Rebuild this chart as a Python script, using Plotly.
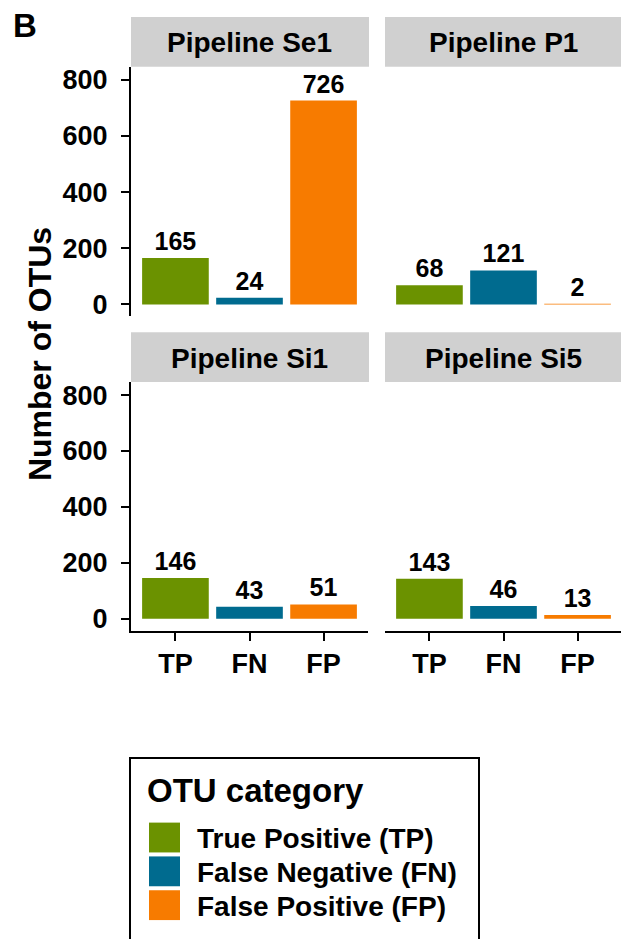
import plotly.graph_objects as go

W, H = 621, 939

categories = ["TP", "FN", "FP"]
pipelines = ["Pipeline Se1", "Pipeline P1", "Pipeline Si1", "Pipeline Si5"]
se1_values = [165, 24, 726]
p1_values = [68, 121, 2]
si1_values = [146, 43, 51]
si5_values = [143, 46, 13]
legend_labels = ["True Positive (TP)", "False Negative (FN)", "False Positive (FP)"]
y_ticks = [0, 200, 400, 600, 800]

colors = ["#6B9200", "#006B8F", "#F77B00"]
FONT = "Liberation Sans"


def px(x):
    return x / W


def py(y):
    return 1 - y / H


series = [se1_values, p1_values, si1_values, si5_values]

fig = go.Figure()
for i, vals in enumerate(series):
    n = "" if i == 0 else str(i + 1)
    fig.add_trace(go.Bar(
        x=categories, y=vals,
        marker=dict(color=colors, line=dict(width=0)),
        width=0.9,
        text=[str(v) for v in vals],
        textposition="outside",
        constraintext="none",
        cliponaxis=False,
        textfont=dict(family=FONT, size=25, color="black", weight="bold"),
        xaxis="x" + n, yaxis="y" + n,
        showlegend=False,
        hoverinfo="skip",
    ))

# panel geometry (pixels)
left_x = (131, 368)
right_x = (385, 621)
top_y = (66, 317)
bot_y = (383, 633)
unit = (left_x[1] - left_x[0]) / 3.2
yrange = [-42.5, 847]

tickfont = dict(family=FONT, size=27, color="black", weight="bold")

layout = dict(
    width=W, height=H,
    margin=dict(l=0, r=0, t=0, b=0),
    paper_bgcolor="white", plot_bgcolor="white",
    showlegend=False,
    font=dict(family=FONT, color="black"),
)

panels = [
    ("", left_x, top_y, True, False),
    ("2", right_x, top_y, False, False),
    ("3", left_x, bot_y, True, True),
    ("4", right_x, bot_y, False, True),
]
for n, xs, ys, show_y, show_x in panels:
    xr = [-0.6, -0.6 + (xs[1] - xs[0]) / unit]
    layout["xaxis" + n] = dict(
        domain=[px(xs[0]), px(xs[1])], anchor="y" + n,
        type="category", categoryorder="array", categoryarray=categories,
        range=xr, showgrid=False, zeroline=False,
        showline=show_x, linecolor="black", linewidth=2,
        ticks="outside" if show_x else "", ticklen=8, tickwidth=2, tickcolor="black",
        showticklabels=show_x, tickfont=tickfont, fixedrange=True,
    )
    layout["yaxis" + n] = dict(
        domain=[py(ys[1]), py(ys[0])], anchor="x" + n,
        range=yrange, showgrid=False, zeroline=False,
        tickvals=y_ticks,
        showline=show_y, linecolor="black", linewidth=2,
        ticks="outside" if show_y else "", ticklen=8, tickwidth=2, tickcolor="black",
        showticklabels=show_y, tickfont=tickfont, ticklabelstandoff=8, fixedrange=True,
    )

fig.update_layout(**layout)

shapes = []
annotations = []
# facet strips
strip_rows = [(16, 66), (333, 383)]
for idx, name in enumerate(pipelines):
    xs = left_x if idx % 2 == 0 else right_x
    ys = strip_rows[idx // 2]
    shapes.append(dict(type="rect", xref="paper", yref="paper",
                       x0=px(xs[0]), x1=px(xs[1] + 1), y0=py(ys[1]), y1=py(ys[0]),
                       fillcolor="#D0D0D0", line=dict(width=0), layer="below"))
    cx = (xs[0] + (xs[0] + 237)) / 2
    annotations.append(dict(text=name, xref="paper", yref="paper",
                            x=px(cx), y=py((ys[0] + ys[1]) / 2 + 1),
                            xanchor="center", yanchor="middle", showarrow=False,
                            font=dict(family=FONT, size=28, color="black", weight="bold")))

# panel tag
annotations.append(dict(text="B", xref="paper", yref="paper", x=px(11), y=py(25),
                        xanchor="left", yanchor="middle", showarrow=False,
                        font=dict(family=FONT, size=33, color="black", weight="bold")))
# y-axis title
annotations.append(dict(text="Number of OTUs", xref="paper", yref="paper",
                        x=px(40), y=py(355), textangle=-90,
                        xanchor="center", yanchor="middle", showarrow=False,
                        font=dict(family=FONT, size=32, color="black", weight="bold")))

# legend box
shapes.append(dict(type="rect", xref="paper", yref="paper",
                   x0=px(130), x1=px(479), y0=py(990), y1=py(761),
                   fillcolor="rgba(0,0,0,0)", line=dict(color="black", width=2)))
annotations.append(dict(text="OTU category", xref="paper", yref="paper",
                        x=px(145), y=py(794), xanchor="left", yanchor="middle",
                        showarrow=False,
                        font=dict(family=FONT, size=33, color="black", weight="bold")))
sw_tops = [826, 860, 894]
for lab, col, t in zip(legend_labels, colors, sw_tops):
    shapes.append(dict(type="rect", xref="paper", yref="paper",
                       x0=px(149), x1=px(180), y0=py(t + 30), y1=py(t),
                       fillcolor=col, line=dict(width=0)))
    annotations.append(dict(text=lab, xref="paper", yref="paper",
                            x=px(195), y=py(t + 16), xanchor="left", yanchor="middle",
                            showarrow=False,
                            font=dict(family=FONT, size=28, color="black", weight="bold")))

fig.update_layout(shapes=shapes, annotations=annotations)
fig.write_html(
    "out.html",
    config={"displayModeBar": False, "staticPlot": True},
    post_script="document.body.style.margin='0';document.body.style.overflow='hidden';",
)
